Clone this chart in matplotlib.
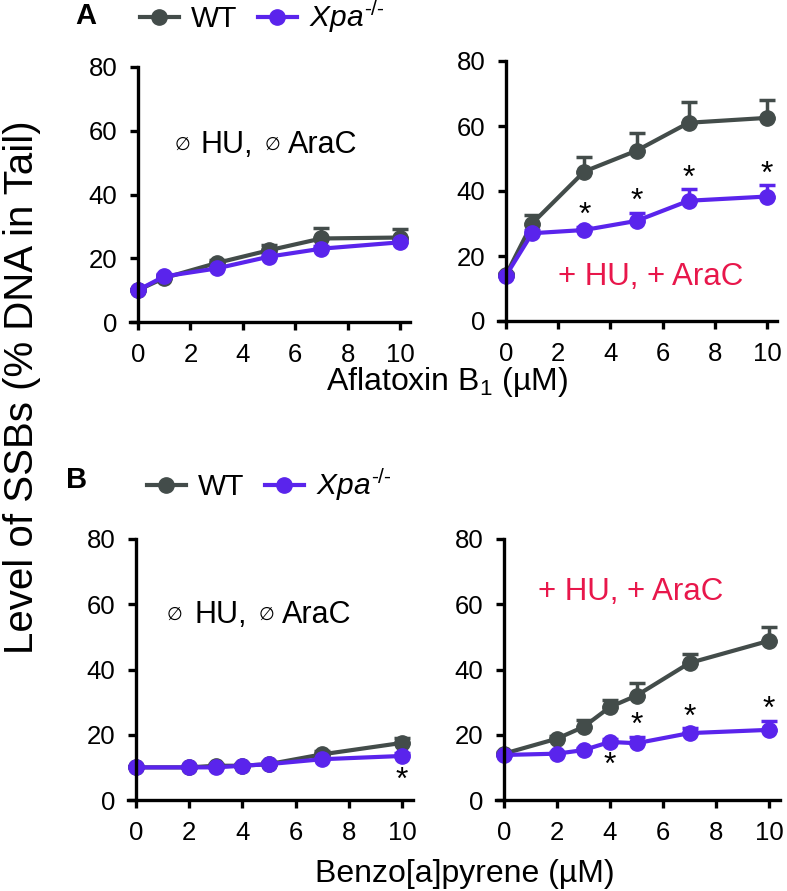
import numpy as np
import matplotlib
matplotlib.use('Agg')
import matplotlib.pyplot as plt

plt.rcParams['font.family'] = ['Liberation Sans', 'DejaVu Sans']
plt.rcParams['mathtext.fontset'] = 'custom'
plt.rcParams['mathtext.rm'] = 'Liberation Sans'
plt.rcParams['mathtext.it'] = 'Liberation Sans:italic'
plt.rcParams['mathtext.default'] = 'regular'

# panel A: aflatoxin B1
x_afb = [0, 1, 3, 5, 7, 10]
wt_afb_noHU = [10, 13.8, 18.5, 22.5, 26.2, 26.5]
wt_afb_noHU_err = [0.5, 0.8, 1.0, 1.6, 3.2, 2.8]
xpa_afb_noHU = [10, 14.3, 16.8, 20.5, 23, 25]
xpa_afb_noHU_err = [0.4, 0.8, 0.8, 1.0, 1.0, 1.2]
wt_afb_HU = [14.2, 30, 46, 52.4, 61, 62.5]
wt_afb_HU_err = [0.5, 2.5, 4.5, 5.5, 6.5, 5.5]
xpa_afb_HU = [14, 27, 28, 30.8, 37, 38.3]
xpa_afb_HU_err = [0.5, 1.0, 1.0, 2.5, 3.6, 3.5]

# panel B: benzo[a]pyrene
x_bap = [0, 2, 3, 4, 5, 7, 10]
wt_bap_noHU = [10, 10, 10.5, 10.5, 11, 14, 17.5]
wt_bap_noHU_err = [0.3, 0.5, 0.6, 0.5, 0.6, 1.0, 1.5]
xpa_bap_noHU = [10, 10, 10, 10.5, 11, 12.5, 13.5]
xpa_bap_noHU_err = [0.3, 0.4, 0.4, 0.4, 0.5, 0.6, 0.8]
wt_bap_HU = [14.2, 18.8, 22.4, 28.5, 32, 42, 48.8]
wt_bap_HU_err = [0.5, 0.8, 2.0, 2.2, 3.9, 2.8, 4.3]
xpa_bap_HU = [13.8, 14.2, 15.3, 17.8, 17.4, 20.5, 21.5]
xpa_bap_HU_err = [0.4, 0.5, 0.6, 1.0, 2.0, 1.5, 2.8]

# significance stars: (index into x, 'above' or 'below' the Xpa point)
stars_afb_noHU = []
stars_afb_HU = [(2, 'above'), (3, 'above'), (4, 'above'), (5, 'above')]
stars_bap_noHU = [(6, 'below')]
stars_bap_HU = [(3, 'below'), (4, 'above'), (5, 'above'), (6, 'above')]

WT_C = '#434c4a'
XPA_C = '#5a24ec'
RED = '#e8174b'

W, H = 787, 891
fig = plt.figure(figsize=(W / 100, H / 100), dpi=100)


def px_axes(x0, x10, y80, y0, xlo=-0.3, xhi=10.4):
    sx = (x10 - x0) / 10.0
    left = x0 + xlo * sx
    right = x0 + xhi * sx
    return fig.add_axes([left / W, 1 - y0 / H, (right - left) / W, (y0 - y80) / H])


def panel(ax, x, wt, wt_e, xpa, xpa_e, stars):
    lines = []
    for y, e, c in [(wt, wt_e, WT_C), (xpa, xpa_e, XPA_C)]:
        e = np.array(e)
        cont = ax.errorbar(x, y, yerr=[np.zeros_like(e), e], fmt='-o', color=c,
                           lw=3, ms=11, capsize=6, elinewidth=2.5, capthick=2.5,
                           clip_on=False)
        lines.append(cont.lines[0])
    for i, side in stars:
        if side == 'above':
            yy = xpa[i] + xpa_e[i] + 3.2
        else:
            yy = xpa[i] - 7.5
        ax.text(x[i], yy, '*', fontsize=23, ha='center', va='center')
    ax.set_xlim(-0.3, 10.4)
    ax.set_ylim(0, 80)
    ax.spines['left'].set_position(('data', 0))
    ax.spines['top'].set_visible(False)
    ax.spines['right'].set_visible(False)
    for s in ['left', 'bottom']:
        ax.spines[s].set_linewidth(2.4)
    ax.set_xticks([0, 2, 4, 6, 8, 10])
    ax.set_yticks([0, 20, 40, 60, 80])
    ax.tick_params(direction='out', length=6, width=2.4, labelsize=18.5, pad=9)
    return lines


def no_drug_label(ax, y, xs):
    ax.text(xs[0], y, '\u2205', fontsize=13, ha='left', va='center')
    ax.text(xs[1], y, 'HU,', fontsize=22, ha='left', va='center')
    ax.text(xs[2], y, '\u2205', fontsize=13, ha='left', va='center')
    ax.text(xs[3], y, 'AraC', fontsize=22, ha='left', va='center')


ax1 = px_axes(138, 400, 67, 322)
ax2 = px_axes(506, 767, 61, 321)
ax3 = px_axes(136, 402, 539, 800)
ax4 = px_axes(504, 769, 539, 800)

h = panel(ax1, x_afb, wt_afb_noHU, wt_afb_noHU_err, xpa_afb_noHU, xpa_afb_noHU_err, stars_afb_noHU)
panel(ax2, x_afb, wt_afb_HU, wt_afb_HU_err, xpa_afb_HU, xpa_afb_HU_err, stars_afb_HU)
panel(ax3, x_bap, wt_bap_noHU, wt_bap_noHU_err, xpa_bap_noHU, xpa_bap_noHU_err, stars_bap_noHU)
panel(ax4, x_bap, wt_bap_HU, wt_bap_HU_err, xpa_bap_HU, xpa_bap_HU_err, stars_bap_HU)

# condition labels
no_drug_label(ax1, 55.5, [1.4, 2.37, 4.82, 5.72])
no_drug_label(ax3, 56.7, [1.17, 2.2, 4.6, 5.48])
ax2.text(2.0, 13.5, '+ HU, + AraC', fontsize=22.5, color=RED, ha='left', va='center')
ax4.text(1.3, 63.8, '+ HU, + AraC', fontsize=22.5, color=RED, ha='left', va='center')

# x labels
fig.text(447 / W, 1 - 382 / H, 'Aflatoxin B$_1$ (\u00b5M)', fontsize=23, ha='center', va='center')
fig.text(465 / W, 1 - 874 / H, 'Benzo[a]pyrene (\u00b5M)', fontsize=23, ha='center', va='center')

# y label
fig.text(22 / W, 1 - 387 / H, 'Level of SSBs (% DNA in Tail)', fontsize=29,
         rotation=90, ha='center', va='center')

# panel letters and legends
labels = ['WT', '$\\mathit{Xpa}^{\\mathit{\u2010/\u2010}}$']
fig.text(75 / W, 1 - 16 / H, 'A', fontsize=21, fontweight='bold', ha='left', va='center')
fig.text(66 / W, 1 - 480 / H, 'B', fontsize=21, fontweight='bold', ha='left', va='center')
for yy, xx in [(17, 140), (485, 147)]:
    fig.legend(h, labels, loc='center left', bbox_to_anchor=(xx / W, 1 - yy / H),
               ncol=2, frameon=False, fontsize=21.5, handlelength=1.3,
               handletextpad=0.4, columnspacing=0.7, borderpad=0, borderaxespad=0)

fig.savefig('out.png', dpi=100)
